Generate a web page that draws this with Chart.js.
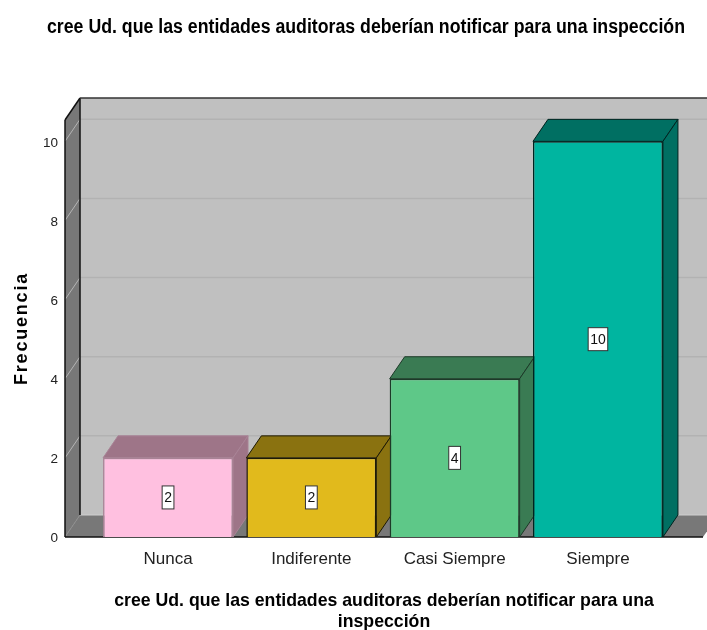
<!DOCTYPE html>
<html lang="es">
<head>
<meta charset="utf-8">
<title>Frecuencia</title>
<script src="https://cdn.jsdelivr.net/npm/chart.js@4/dist/chart.umd.min.js"></script>
<style>
  body { margin: 0; background: #ffffff; }
  canvas { display: block; }
</style>
</head>
<body>
<canvas id="myChart" width="707" height="630"></canvas>
<script>
// Datos
const categorias = ['Nunca', 'Indiferente', 'Casi Siempre', 'Siempre'];
const frecuencias = [2, 2, 4, 10];
const ticksY = [0, 2, 4, 6, 8, 10];
const titulo = 'cree Ud. que las entidades auditoras deberían notificar para una inspección';
const tituloEjeX = ['cree Ud. que las entidades auditoras deberían notificar para una', 'inspección'];
const tituloEjeY = 'Frecuencia';

// Colores de cada barra
const coloresFrente = ['#ffc0e0', '#e1ba1c', '#5ec888', '#00b5a0'];
const coloresLado = ['#9e7588', '#8a7210', '#3a7b53', '#006f62'];
const coloresBorde = ['#a98396', '#1e1a05', '#1c3a28', '#00231f'];

// Profundidad del efecto 3D, en pixeles
const dx = 15;
const dy = 22;

function poligono(ctx, puntos, relleno, borde) {
  ctx.beginPath();
  puntos.forEach((p, i) => (i === 0 ? ctx.moveTo(p[0], p[1]) : ctx.lineTo(p[0], p[1])));
  ctx.closePath();
  ctx.fillStyle = relleno;
  ctx.fill();
  if (borde) {
    ctx.strokeStyle = borde;
    ctx.lineWidth = 1;
    ctx.stroke();
  }
}

function linea(ctx, x1, y1, x2, y2, color, ancho) {
  ctx.beginPath();
  ctx.moveTo(x1, y1);
  ctx.lineTo(x2, y2);
  ctx.strokeStyle = color;
  ctx.lineWidth = ancho;
  ctx.stroke();
}

// Paredes, piso, cuadricula y caras laterales de las barras
const caja3d = {
  id: 'caja3d',
  afterLayout(chart) {
    // el titulo esta corrido a la derecha y angosto en el original
    chart.titleBlock.left = 47;
    chart.titleBlock.right = 685;
    // el titulo del eje Y tiene las letras mas separadas
    const ejeY = chart.scales.y;
    const dibujarTitulo = ejeY.drawTitle;
    ejeY.drawTitle = function () {
      chart.ctx.letterSpacing = '1.8px';
      dibujarTitulo.call(ejeY);
      chart.ctx.letterSpacing = '0px';
    };
  },
  beforeDatasetsDraw(chart) {
    const { ctx, chartArea: a, scales: { y } } = chart;
    const derecha = a.right;
    ctx.save();
    // pared del fondo
    poligono(ctx, [[a.left + dx, a.top - dy], [chart.width, a.top - dy], [chart.width, a.bottom - dy], [a.left + dx, a.bottom - dy]], '#c0c0c0');
    // piso
    poligono(ctx, [[a.left, a.bottom], [a.left + dx, a.bottom - dy], [derecha + dx, a.bottom - dy], [derecha, a.bottom]], '#787878');
    // pared izquierda
    poligono(ctx, [[a.left, a.top], [a.left + dx, a.top - dy], [a.left + dx, a.bottom - dy], [a.left, a.bottom]], '#787878');
    // cuadricula
    ticksY.forEach((v) => {
      if (v === 0) return;
      const py = y.getPixelForValue(v);
      linea(ctx, a.left + dx, py - dy, chart.width, py - dy, '#b2b2b2', 1.5);
      linea(ctx, a.left, py, a.left + dx, py - dy, '#b4b4b4', 1);
    });
    linea(ctx, a.left + dx, a.bottom - dy, chart.width, a.bottom - dy, '#cfcfcf', 1);
    linea(ctx, a.left, a.bottom, a.left + dx, a.bottom - dy, '#8c8c8c', 1);
    // bordes negros
    linea(ctx, a.left, a.top, a.left, a.bottom, '#111111', 1.5);
    linea(ctx, a.left + dx, a.top - dy, a.left + dx, a.bottom - dy, '#111111', 1.5);
    linea(ctx, a.left, a.top, a.left + dx, a.top - dy, '#111111', 1.5);
    linea(ctx, a.left + dx, a.top - dy, chart.width, a.top - dy, '#333333', 1.5);
    linea(ctx, a.left, a.bottom, derecha, a.bottom, '#111111', 1.5);
    // caras de arriba y del lado de cada barra
    chart.getDatasetMeta(0).data.forEach((barra, i) => {
      const x1 = barra.x - barra.width / 2;
      const x2 = barra.x + barra.width / 2;
      const t = barra.y;
      const b = barra.base;
      poligono(ctx, [[x1, t], [x1 + dx, t - dy], [x2 + dx, t - dy], [x2, t]], coloresLado[i], coloresBorde[i]);
      poligono(ctx, [[x2, t], [x2 + dx, t - dy], [x2 + dx, b - dy], [x2, b]], coloresLado[i], coloresBorde[i]);
    });
    ctx.restore();
  },
  afterDatasetsDraw(chart) {
    const { ctx } = chart;
    ctx.save();
    ctx.font = '14px "Liberation Sans"';
    ctx.textAlign = 'center';
    ctx.textBaseline = 'middle';
    // etiqueta con el valor en el centro de cada barra
    chart.getDatasetMeta(0).data.forEach((barra, i) => {
      const texto = String(frecuencias[i]);
      const cy = (barra.y + barra.base) / 2;
      const ancho = ctx.measureText(texto).width + 4;
      ctx.fillStyle = '#ffffff';
      ctx.strokeStyle = '#333333';
      ctx.lineWidth = 1;
      ctx.fillRect(barra.x - ancho / 2, cy - 11.5, ancho, 23);
      ctx.strokeRect(barra.x - ancho / 2, cy - 11.5, ancho, 23);
      ctx.fillStyle = '#111111';
      ctx.fillText(texto, barra.x, cy + 1);
    });
    ctx.restore();
  }
};

new Chart(document.getElementById('myChart'), {
  type: 'bar',
  data: {
    datasets: [{
      label: tituloEjeY,
      data: frecuencias.map((v, i) => ({ x: i, y: v })),
      backgroundColor: coloresFrente,
      borderColor: coloresBorde,
      borderWidth: 1.5,
      barPercentage: 0.907,
      categoryPercentage: 1
    }]
  },
  plugins: [caja3d],
  options: {
    responsive: false,
    animation: false,
    layout: { padding: { right: 4 } },
    plugins: {
      legend: { display: false },
      tooltip: { enabled: false },
      title: {
        display: true,
        text: titulo,
        color: '#000000',
        font: { family: '"Liberation Sans"', size: 20, weight: 'bold' },
        padding: { top: 15, bottom: 81 }
      }
    },
    scales: {
      x: {
        type: 'linear',
        offset: false,
        min: -0.719,
        max: 3.733,
        grid: { display: false, drawTicks: false, offset: false },
        border: { display: false },
        afterBuildTicks: (eje) => { eje.ticks = categorias.map((c, i) => ({ value: i })); },
        afterFit: (eje) => { eje.height = 93; },
        ticks: {
          autoSkip: false,
          maxRotation: 0,
          padding: 12,
          color: '#222222',
          font: { family: '"Liberation Sans"', size: 17 },
          callback: (v) => categorias[v]
        },
        title: {
          display: true,
          text: tituloEjeX,
          color: '#000000',
          font: { family: '"Liberation Sans"', size: 17.7, weight: 'bold', lineHeight: 1.19 },
          padding: { top: 16, bottom: -3 }
        }
      },
      y: {
        min: 0,
        max: 10.54,
        grid: { display: false, drawTicks: false },
        border: { display: false },
        afterBuildTicks: (eje) => { eje.ticks = ticksY.map((v) => ({ value: v })); },
        afterFit: (eje) => { eje.width = 65; },
        ticks: {
          padding: 7,
          labelOffset: 1.5,
          color: '#222222',
          font: { family: '"Liberation Sans"', size: 13.5 }
        },
        title: {
          display: true,
          text: tituloEjeY,
          color: '#000000',
          font: { family: '"Liberation Sans"', size: 18, weight: 'bold' },
          padding: { top: 11, bottom: 0 }
        }
      }
    }
  }
});
</script>
</body>
</html>
